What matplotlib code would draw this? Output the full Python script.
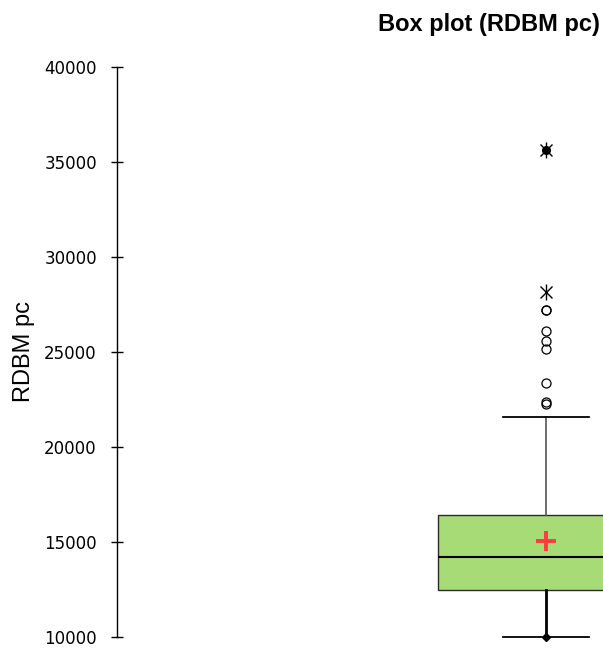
import matplotlib
matplotlib.use("Agg")
import matplotlib.pyplot as plt

# summary statistics
q1, median, q3 = 12450, 14200, 16400
mean_value = 15050
whisker_low, whisker_high = 10000, 21600
minimum, maximum = 10000, 35650
outliers_circle = [22270, 22380, 23350, 25150, 25600, 26100, 27200, 27230]
outliers_star = [28150, 35650]
y_ticks = [10000, 15000, 20000, 25000, 30000, 35000, 40000]

BOX_X = 0.883

fig = plt.figure(figsize=(6.03, 6.48), dpi=100)
ax = fig.add_axes([117 / 603, 11 / 648, 486 / 603, 570 / 648])

stats = [{
    "med": median, "q1": q1, "q3": q3,
    "whislo": whisker_low, "whishi": whisker_high,
    "mean": mean_value, "fliers": [],
}]
bp = ax.bxp(stats, positions=[BOX_X], widths=0.445, patch_artist=True,
            showmeans=False, showfliers=False,
            boxprops=dict(facecolor="#a7db76", edgecolor="#2b2b2b", linewidth=1.0),
            medianprops=dict(color="black", linewidth=1.5),
            capwidths=0.177,
            capprops=dict(color="black", linewidth=1.3))
for art in bp["boxes"] + bp["whiskers"] + bp["caps"] + bp["medians"]:
    art.set_clip_on(False)
bp["whiskers"][0].set(color="black", linewidth=2.0)
bp["whiskers"][1].set(color="#555555", linewidth=1.2)

# mean marker
ax.plot([BOX_X], [mean_value], marker="+", color="#ff3b3b", markersize=14,
        markeredgewidth=2.8, clip_on=False, zorder=5)

# outliers
ax.plot([BOX_X] * len(outliers_circle), outliers_circle, linestyle="none",
        marker="o", markersize=6.5, markerfacecolor="none", markeredgecolor="black",
        markeredgewidth=0.9, clip_on=False, zorder=5)
for m, ms in [("x", 9), ("|", 11)]:
    ax.plot([BOX_X] * len(outliers_star), outliers_star, linestyle="none",
            marker=m, markersize=ms, color="black", markeredgewidth=1.0,
            clip_on=False, zorder=5)

# min / max markers
ax.plot([BOX_X], [minimum], marker="D", markersize=4, color="black", clip_on=False, zorder=6)
ax.plot([BOX_X], [maximum], marker="o", markersize=5.5, color="black", clip_on=False, zorder=6)

ax.set_xlim(0, 1)
ax.set_ylim(10000, 40000)
ax.set_yticks(y_ticks)
ax.set_xticks([])
for side in ["top", "right", "bottom"]:
    ax.spines[side].set_visible(False)
ax.spines["left"].set_linewidth(1.0)
ax.tick_params(axis="y", direction="inout", length=9, width=1.0, labelsize=12, pad=10)
ax.set_ylabel("RDBM pc", fontsize=17, family="Liberation Sans")
ax.yaxis.set_label_coords((35 - 117) / 486, (637 - 351) / 570)

fig.text(6.0, (648 - 25) / 100, "Box plot (RDBM pc)", ha="right", va="center",
         fontsize=17, fontweight="bold", family="Liberation Sans",
         transform=fig.dpi_scale_trans)

fig.savefig("out.png", dpi=100)
